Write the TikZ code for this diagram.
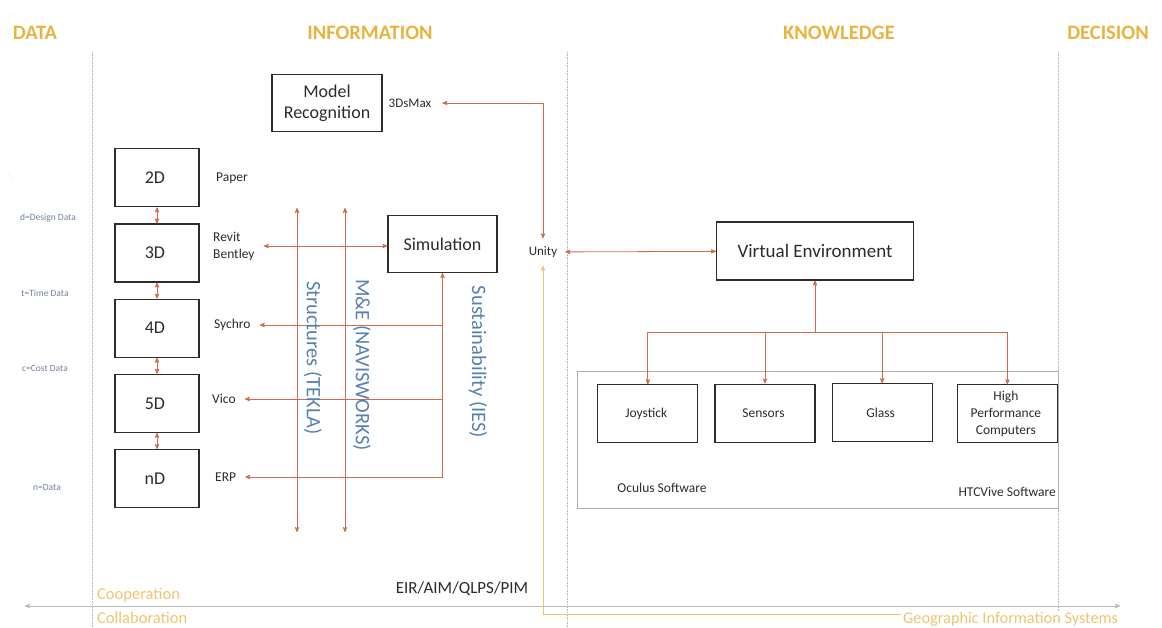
\documentclass[tikz,border=0pt]{standalone}
\usepackage{fontspec}
\setmainfont{Carlito}
\usetikzlibrary{matrix,arrows}

\definecolor{gold}{RGB}{232,180,64}
\definecolor{lgold}{RGB}{238,196,112}
\definecolor{rust}{RGB}{208,108,76}
\definecolor{steel}{RGB}{86,128,176}
\definecolor{slate}{RGB}{112,130,158}
\definecolor{ink}{RGB}{48,42,40}

\tikzset{
  box/.style={draw=ink, line width=1.2pt, minimum width=84pt, minimum height=58pt,
    font=\fontsize{18}{21}\selectfont, text=ink, align=center},
  lbl/.style={font=\fontsize{13.5}{17}\selectfont, text=ink, inner xsep=9pt, inner ysep=3pt},
  head/.style={font=\fontsize{20.5}{24}\selectfont\bfseries, text=gold},
  side/.style={font=\fontsize{9.5}{11}\selectfont, text=slate},
  vtext/.style={font=\fontsize{20.5}{23}\selectfont, text=steel, rotate=-90},
  link/.style={rust, line width=0.8pt},
  divider/.style={densely dotted, draw=rust!35!gray!60, line width=0.6pt},
}

\begin{document}
\begin{tikzpicture}[x=1pt, y=-1pt, >=stealth']
  \useasboundingbox (0,0) rectangle (1162,628);
  \draw[gray!15, rounded corners=5pt] (14,177) -- (8,177) -- (8,14) -- (1158,14);
  % columns
  \draw[divider] (92,52) -- (92,628);
  \draw[divider] (567,52) -- (567,628);
  \draw[divider] (1058,52) -- (1058,612);
  \node[head] (hd) at (35,33) {DATA};
  \node[head] (hi) at (370,33) {INFORMATION};
  \node[head] (hk) at (839,33) {KNOWLEDGE};
  \node[head] (hc) at (1108,33) {DECISION};

  % data levels
  \matrix (m) [matrix of nodes, nodes={box}, row sep=16pt, inner sep=0pt, anchor=north] at (157,148)
  {
2D \\
3D \\
4D \\
5D \\
nD \\
};
  \path[<->, link]
  (m-1-1) edge (m-2-1)
  (m-2-1) edge (m-3-1)
  (m-3-1) edge (m-4-1)
  (m-4-1) edge (m-5-1)
  ;
  \node[side] (dd) at (48,218) {d=Design Data};
  \node[side] (td) at (45,293) {t=Time Data};
  \node[side] (cd) at (45,368) {c=Cost Data};
  \node[side] (nd) at (47,487) {n=Data};

  \node[lbl, anchor=west] (pap) at (207,178) {Paper};
  \node[lbl, anchor=west, align=left] (rb) at (204,246) {Revit\\Bentley};
  \node[lbl, anchor=west] (syc) at (205,325) {Sychro};
  \node[lbl, anchor=west] (vico) at (203,399) {Vico};
  \node[lbl, anchor=west] (erp) at (206,477) {ERP};

  % information
  \node[box, minimum width=110pt, minimum height=57pt] (mr) at (327,103) {Model\\Recognition};
  \node[lbl, font=\fontsize{13}{15}\selectfont, inner xsep=11pt] (max) at (410,103) {3DsMax};
  \node[box, minimum width=109pt, minimum height=57pt] (sim) at (442.5,244) {Simulation};

  \draw[<->, link] (rb) -- (rb -| sim.west);
  \draw[<->, link] (erp) -| (sim);
  \draw[->, link] (sim.south |- syc) -- (syc);
  \draw[->, link] (sim.south |- vico) -- (vico);

  \coordinate (t1) at (297,208);
  \coordinate (t2) at (297,532);
  \coordinate (w1) at (345,208);
  \coordinate (w2) at (345,532);
  \draw[<->, link] (t1) -- (t2);
  \draw[<->, link] (w1) -- (w2);
  \node[vtext] (tek) at (313,358) {Structures (TEKLA)};
  \node[vtext] (nav) at (362,365) {M\&E (NAVISWORKS)};
  \node[vtext] (ies) at (478,362) {Sustainability (IES)};

  \node[lbl, font=\fontsize{13}{15}\selectfont, inner xsep=8pt, inner ysep=8pt] (uni) at (543,252) {Unity};
  \draw[<->, link] (max) -| (uni);

  % knowledge
  \node[box, minimum width=197pt, minimum height=58pt, font=\fontsize{19}{22}\selectfont] (ve) at (815,251) {Virtual Environment};
  \draw[<->, link] (uni) -- (ve);

  \draw[gray!60!ink!50, line width=0.9pt] (577,371) rectangle (1058,508);
  \matrix (c) [matrix of nodes, nodes={box, minimum width=100pt, font=\fontsize{13.5}{17}\selectfont},
    column sep=16pt, inner sep=0pt, anchor=north west] at (597,383)
  {
Joystick & Sensors & Glass &[8pt] \begin{tabular}{@{}c@{}}High\\Performance\\Computers\end{tabular} \\
};
  \coordinate (br) at (815,332);
  \draw[->, link] (br) -- (ve);
  \foreach \k in {1,...,4}
    \draw[->, link] (br) -| (c-1-\k);

  \node[lbl] (ocu) at (662,488) {Oculus Software};
  \node[lbl, anchor=east, inner xsep=1pt] (htc) at (1057,492) {HTCVive Software};

  % bottom
  \node[lbl, font=\fontsize{17}{19}\selectfont] (eir) at (462,589) {EIR/AIM/QLPS/PIM};
  \node[lbl, anchor=west, text=lgold, font=\fontsize{16.5}{18}\selectfont, inner xsep=1pt] (coop) at (96,595) {Cooperation};
  \node[lbl, anchor=west, text=lgold, font=\fontsize{16.5}{18}\selectfont, inner xsep=1pt] (coll) at (96,618) {Collaboration};
  \node[lbl, anchor=west, text=lgold, font=\fontsize{16.3}{18}\selectfont, inner xsep=2pt] (gis) at (901,619) {Geographic Information Systems};
  \coordinate (g1) at (25,606);
  \coordinate (g2) at (1120,606);
  \draw[<->, gray!55, line width=0.8pt] (g1) -- (g2);
  \draw[->, lgold, line width=0.8pt] (gis.west) ++(0,-5) -| (uni);
\end{tikzpicture}
\end{document}
